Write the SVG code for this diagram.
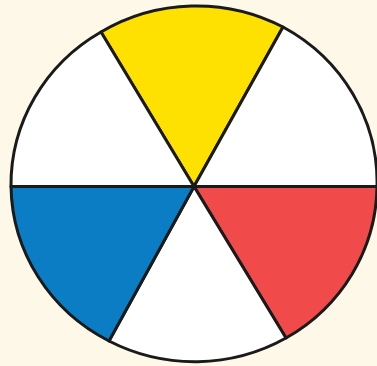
<svg xmlns="http://www.w3.org/2000/svg" width="377" height="366" viewBox="0 0 377 366">
<style>
.s{stroke:#1a1a1a;stroke-width:3;stroke-linejoin:round}
.w{fill:#ffffff}.y{fill:#ffe100}.r{fill:#f04a4a}.b{fill:#0a7dc5}
</style>
<rect width="377" height="366" fill="#fdf8e8"/>
<g id="sector-yellow"><path class="s y" d="M194,186.5 L101,32 A183,177.5 0 0 1 283,27 Z"/></g>
<g id="sector-upper-right"><path class="s w" d="M194,186.5 L283,27 A183,177.5 0 0 1 377,186.5 Z"/></g>
<g id="sector-red"><path class="s r" d="M194,186.5 L377,186.5 A183,177.5 0 0 1 286,338 Z"/></g>
<g id="sector-bottom"><path class="s w" d="M194,186.5 L286,338 A183,177.5 0 0 1 109,341 Z"/></g>
<g id="sector-blue"><path class="s b" d="M194,186.5 L109,341 A183,177.5 0 0 1 11,186.5 Z"/></g>
<g id="sector-upper-left"><path class="s w" d="M194,186.5 L11,186.5 A183,177.5 0 0 1 101,32 Z"/></g>
<g id="connectors"></g>
</svg>
